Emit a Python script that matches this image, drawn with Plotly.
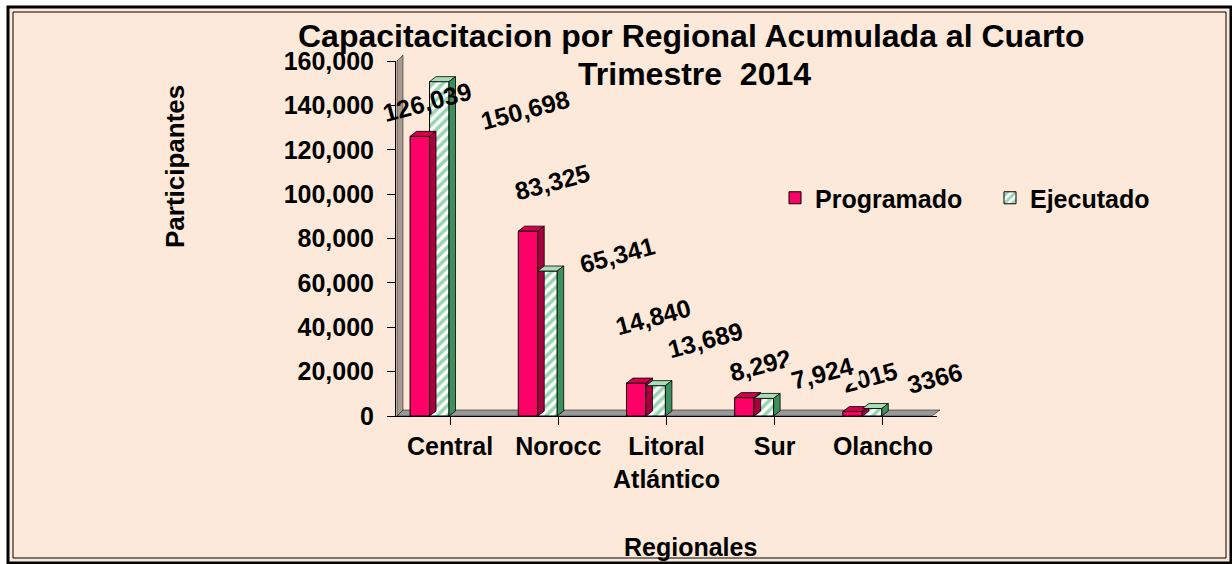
import plotly.graph_objects as go

# ---- data ----
categories = ["Central", "Norocc", "Litoral<br>Atlántico", "Sur", "Olancho"]
programado = [126039, 83325, 14840, 8292, 2015]
ejecutado = [150698, 65341, 13689, 7924, 3366]
prog_labels = ["126,039", "83,325", "14,840", "8,292", "2015"]
ejec_labels = ["150,698", "65,341", "13,689", "7,924", "3366"]
y_ticks = [0, 20000, 40000, 60000, 80000, 100000, 120000, 140000, 160000]

# label anchor positions (category units / data units)
prog_lab_x = [-0.213, 0.943, 1.876, 2.865, 3.882]
prog_lab_y = [141500, 105500, 44600, 23000, 17600]
ejec_lab_x = [0.693, 1.543, 2.357, 3.440, 4.482]
ejec_lab_y = [137900, 72600, 34300, 19300, 17100]

PEACH = "#FDE9D9"
RED = "#FF0066"
GREEN = "#2EAA5E"
FONT = "Arial, Liberation Sans, sans-serif"

L, R, T, B = 396, 295, 61, 148
W, H = 1232, 564
PW, PH = W - L - R, H - T - B


def px(xp):
    return (xp - L) / PW


def py(yp):
    return (H - B - yp) / PH


fig = go.Figure()
BW = 0.18
OFF_P, OFF_E = -0.37, -0.19
fig.add_trace(go.Bar(
    name="<b>Programado</b>", x=list(range(5)), y=programado,
    offset=OFF_P, width=BW,
    marker=dict(color=RED, line=dict(color="black", width=1)),
))
fig.add_trace(go.Bar(
    name="<b>Ejecutado</b>", x=list(range(5)), y=ejecutado,
    offset=OFF_E, width=BW,
    marker=dict(color="white", line=dict(color="black", width=1),
                pattern=dict(shape="/", fgcolor=GREEN, bgcolor="white",
                             size=7, solidity=0.5)),
))

shapes = []
# peach page with double frame
shapes.append(dict(type="rect", xref="paper", yref="paper", layer="below",
                   x0=px(8), x1=px(1231), y0=py(563), y1=py(7),
                   fillcolor=PEACH, line=dict(color="black", width=3)))
shapes.append(dict(type="rect", xref="paper", yref="paper", layer="below",
                   x0=px(13), x1=px(1226), y0=py(558), y1=py(12),
                   fillcolor="rgba(0,0,0,0)", line=dict(color="black", width=1)))
# back wall strip and floor
shapes.append(dict(type="path", xref="paper", yref="paper", layer="below",
                   path=f"M {px(397)} {py(416)} L {px(397)} {py(61)} L {px(403)} {py(55)} L {px(403)} {py(410)} Z",
                   fillcolor="#A89A90", line=dict(color="black", width=0.5)))
shapes.append(dict(type="path", xref="paper", yref="paper", layer="below",
                   path=f"M {px(397)} {py(416)} L {px(932)} {py(416)} L {px(940)} {py(410)} L {px(403)} {py(410)} Z",
                   fillcolor="#999999", line=dict(color="black", width=0.5)))

# 3D faces of bars
DX, DY = 0.06, 2250
for i in range(5):
    for val, off, top, side in ((programado[i], OFF_P, "#D4004F", "#A8003E"),
                                (ejecutado[i], OFF_E, "#A9DDB8", "#3E8F5E")):
        x0, x1 = i + off, i + off + BW
        shapes.append(dict(type="path", xref="x", yref="y", layer="above",
                           path=f"M {x0} {val} L {x0+DX} {val+DY} L {x1+DX} {val+DY} L {x1} {val} Z",
                           fillcolor=top, line=dict(color="black", width=0.8)))
        shapes.append(dict(type="path", xref="x", yref="y", layer="above",
                           path=f"M {x1} {val} L {x1+DX} {val+DY} L {x1+DX} {DY} L {x1} 0 Z",
                           fillcolor=side, line=dict(color="black", width=0.8)))

annotations = []
for i in range(5):
    annotations.append(dict(x=prog_lab_x[i], y=prog_lab_y[i], xref="x", yref="y",
                            xanchor="center", yanchor="middle",
                            text=f"<b>{prog_labels[i]}</b>", showarrow=False, textangle=-15,
                            font=dict(family=FONT, size=25, color="black")))
for i in range(5):
    annotations.append(dict(x=ejec_lab_x[i], y=ejec_lab_y[i], xref="x", yref="y",
                            xanchor="center", yanchor="middle",
                            text=f"<b>{ejec_labels[i]}</b>", showarrow=False, textangle=-15,
                            bgcolor=PEACH, borderpad=3,
                            font=dict(family=FONT, size=25, color="black")))
annotations.append(dict(x=px(175), y=py(167), xref="paper", yref="paper",
                        xanchor="center", yanchor="middle",
                        text="<b>Participantes</b>", showarrow=False, textangle=-90,
                        font=dict(family=FONT, size=26, color="black")))
annotations.append(dict(x=px(690), y=py(547), xref="paper", yref="paper",
                        xanchor="center", yanchor="middle",
                        text="<b>Regionales</b>", showarrow=False,
                        font=dict(family=FONT, size=25, color="black")))
annotations.append(dict(x=px(691), y=py(36), xref="paper", yref="paper",
                        xanchor="center", yanchor="middle",
                        text="<b>Capacitacitacion por Regional Acumulada al Cuarto</b>",
                        showarrow=False, font=dict(family=FONT, size=32, color="black")))
annotations.append(dict(x=px(694), y=py(74), xref="paper", yref="paper",
                        xanchor="center", yanchor="middle",
                        text="<b>Trimestre  2014</b>",
                        showarrow=False, font=dict(family=FONT, size=32, color="black")))

fig.update_layout(
    width=W, height=H,
    margin=dict(l=L, r=R, t=T, b=B, autoexpand=False),
    paper_bgcolor="white",
    plot_bgcolor="rgba(0,0,0,0)",
    font=dict(family=FONT, size=25, color="black"),
    shapes=shapes,
    annotations=annotations,
    showlegend=True,
    legend=dict(orientation="h", x=px(775), y=py(198), xanchor="left", yanchor="middle",
                bgcolor="rgba(0,0,0,0)", font=dict(family=FONT, size=25, color="black"),
                entrywidth=170, entrywidthmode="pixels", itemwidth=30),
    xaxis=dict(range=[-0.5, 4.5], tickmode="array", tickvals=list(range(5)),
               ticktext=[f"<b>{c}</b>".replace("<br>", "</b><br><b>") for c in categories],
               showline=True, linecolor="black", linewidth=1,
               ticks="outside", ticklen=8, tickcolor="black", tickson="boundaries",
               showgrid=False, zeroline=False,
               tickfont=dict(family=FONT, size=25, color="black")),
    yaxis=dict(range=[0, 160000], tickmode="array", tickvals=y_ticks,
               ticktext=[f"<b>{v:,}</b>" for v in y_ticks],
               showline=True, linecolor="black", linewidth=1,
               ticks="outside", ticklen=8, tickcolor="black", ticklabelstandoff=8,
               showgrid=False, zeroline=False,
               tickfont=dict(family=FONT, size=25, color="black")),
)

fig.write_html("out.html", config={"displayModeBar": False},
               post_script="document.body.style.margin='0';")
